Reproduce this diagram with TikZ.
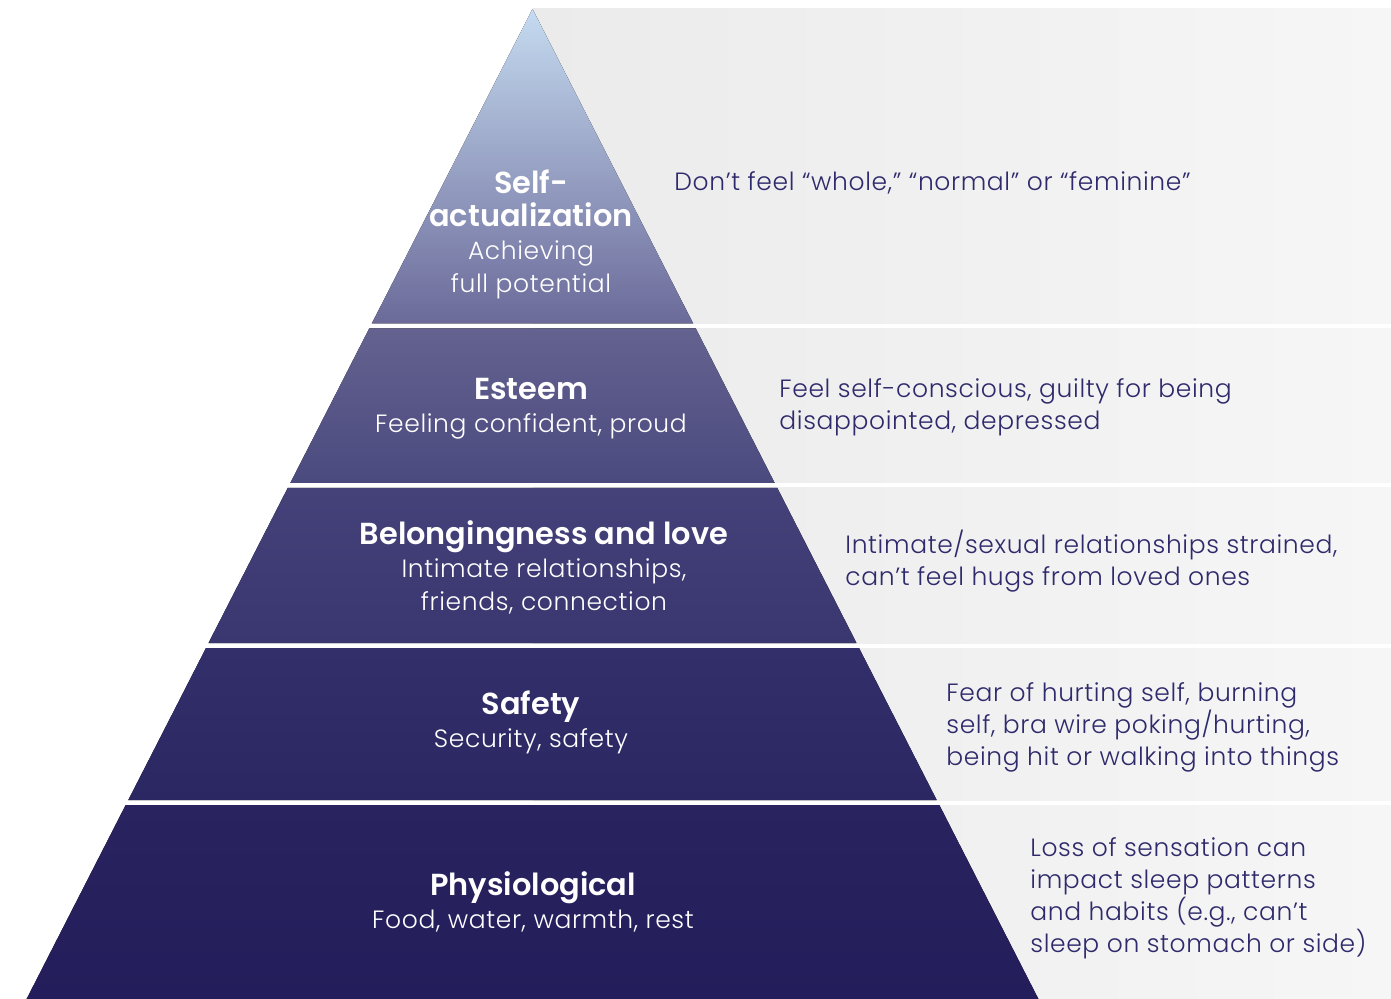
\documentclass[tikz,border=0pt]{standalone}
\usepackage{fontspec}
\setmainfont{Poppins}
\IfFontExistsTF{Poppins Light}{\newfontfamily\lightfont{Poppins Light}[LetterSpace=2.5]}{\newfontfamily\lightfont{Poppins}[LetterSpace=2.5]}
\IfFontExistsTF{Poppins SemiBold}{\newfontfamily\semifont{Poppins SemiBold}}{\newcommand\semifont{\bfseries}}

\definecolor{panelL}{HTML}{EBEBEB}
\definecolor{panelR}{HTML}{F6F6F6}
\definecolor{ink}{HTML}{2E2A6B}
% tier shades, top and bottom of each tier
\definecolor{tierAtop}{HTML}{C5DBF0}\definecolor{tierAbot}{HTML}{6B6A99}
\definecolor{tierBtop}{HTML}{64628F}\definecolor{tierBbot}{HTML}{4B4A7F}
\definecolor{tierCtop}{HTML}{45427A}\definecolor{tierCbot}{HTML}{393670}
\definecolor{tierDtop}{HTML}{332F6A}\definecolor{tierDbot}{HTML}{2B2763}
\definecolor{tierEtop}{HTML}{29245F}\definecolor{tierEbot}{HTML}{231E5B}

\begin{document}
\begin{tikzpicture}[x=0.5pt,y=-0.5pt,
  panel/.style={left color=panelL,right color=panelR,draw=none},
  tier/.style={top color=tier#1top,bottom color=tier#1bot,draw=none},
  tiertext/.style={text=white,align=center,inner sep=0pt,
    font=\lightfont\fontsize{12.5}{16.5}\selectfont},
  sidetext/.style={text=ink,align=left,anchor=west,inner sep=0pt,
    font=\lightfont\fontsize{12.5}{16}\selectfont}]
\newcommand\tiertitle[1]{{\semifont\fontsize{15.2}{17}\selectfont #1}}
\useasboundingbox (0,0) rectangle (1391,999);

% grey panels behind the side notes
\fill[panel] (532.5,9)   rectangle (1391,323.5);
\fill[panel] (532.5,328.5) rectangle (1391,483);
\fill[panel] (532.5,488) rectangle (1391,643);
\fill[panel] (532.5,648) rectangle (1391,800);
\fill[panel] (532.5,805) rectangle (1391,999);

% pyramid tiers
\fill[tier=A] (532.5,9) -- (693.2,323.5) -- (371.8,323.5) -- cycle;
\fill[tier=B] (369.2,328.5) -- (695.8,328.5) -- (774.7,483) -- (290.3,483) -- cycle;
\fill[tier=C] (287.7,488) -- (777.3,488) -- (856.5,643) -- (208.5,643) -- cycle;
\fill[tier=D] (206.0,648) -- (859.0,648) -- (936.7,800) -- (128.3,800) -- cycle;
\fill[tier=E] (125.7,805) -- (939.3,805) -- (1038.4,999) -- (26.6,999) -- cycle;

% tier labels
\node[tiertext] (t1) at (531,234) {\tiertitle{Self-}\\\tiertitle{actualization}\\Achieving\\full potential};
\node[tiertext] (t2) at (531,409) {\tiertitle{Esteem}\\Feeling confident, proud};
\node[tiertext] (t3) at (544,567) {\tiertitle{Belongingness and love}\\Intimate relationships,\\friends, connection};
\node[tiertext] (t4) at (531,722) {\tiertitle{Safety}\\Security, safety};
\node[tiertext] (t5) at (533,902) {\tiertitle{Physiological}\\Food, water, warmth, rest};

% side notes
\node[sidetext] (s1) at (674,183) {Don’t feel “whole,” “normal” or “feminine”};
\node[sidetext] (s2) at (779,407) {Feel self-conscious, guilty for being\\disappointed, depressed};
\node[sidetext] (s3) at (845,561) {Intimate/sexual relationships strained,\\can’t feel hugs from loved ones};
\node[sidetext] (s4) at (946,727) {Fear of hurting self, burning\\self, bra wire poking/hurting,\\being hit or walking into things};
\node[sidetext] (s5) at (1030,898) {Loss of sensation can\\impact sleep patterns\\and habits (e.g., can’t\\sleep on stomach or side)};
\end{tikzpicture}
\end{document}
